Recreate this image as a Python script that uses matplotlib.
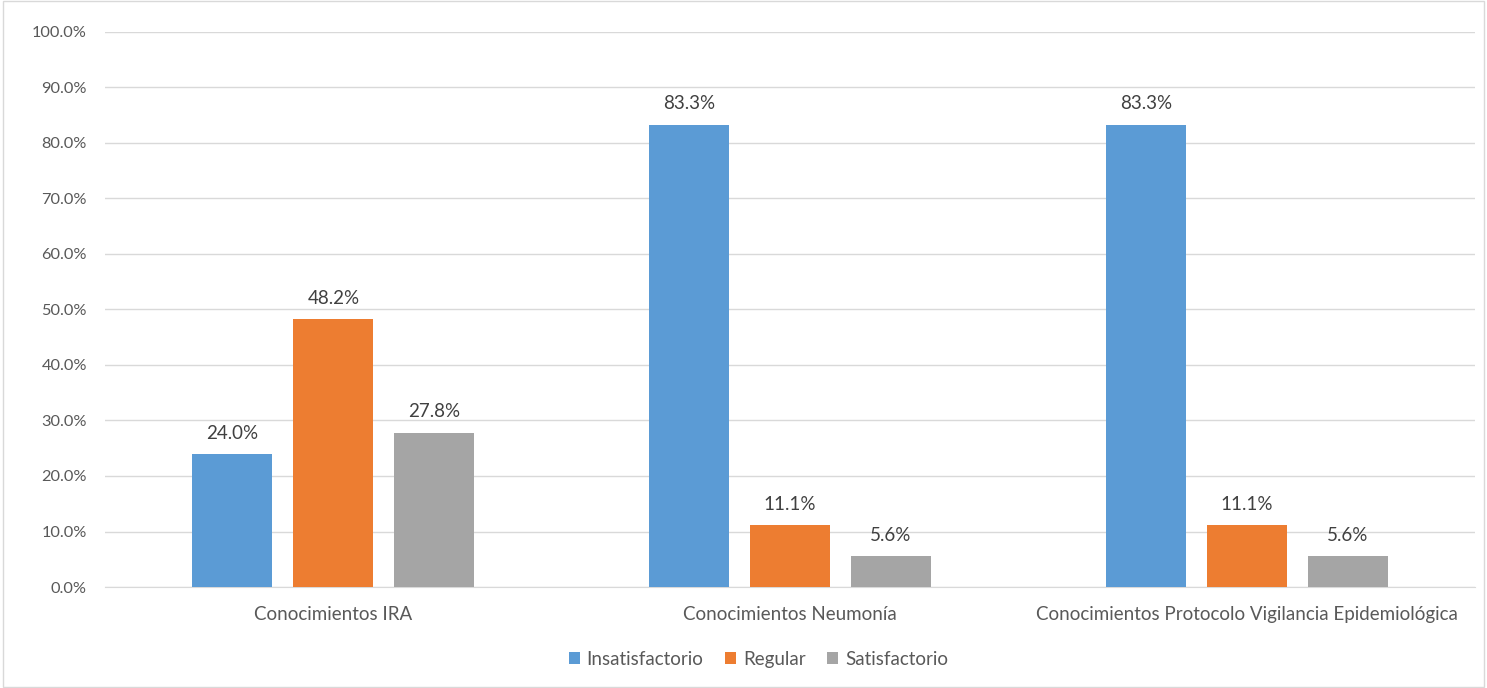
import matplotlib
matplotlib.use('Agg')
import matplotlib.pyplot as plt
import numpy as np

categories = ['Conocimientos IRA', 'Conocimientos Neumonía',
              'Conocimientos Protocolo Vigilancia Epidemiológica']
insatisfactorio = [24.0, 83.3, 83.3]
regular = [48.2, 11.1, 11.1]
satisfactorio = [27.8, 5.6, 5.6]
series_names = ['Insatisfactorio', 'Regular', 'Satisfactorio']
colors = ['#5B9BD5', '#ED7D31', '#A5A5A5']

plt.rcParams['font.family'] = ['Lato', 'DejaVu Sans']

fig = plt.figure(figsize=(14.87, 6.88), dpi=100)
ax = fig.add_axes([0.0706, 0.1468, 0.9214, 0.8067])

x = np.arange(len(categories))
width = 0.175
offset = 0.221
for i, (vals, name, c) in enumerate(zip([insatisfactorio, regular, satisfactorio],
                                        series_names, colors)):
    bars = ax.bar(x + (i - 1) * offset, vals, width, color=c, label=name, zorder=3)
    for b, v in zip(bars, vals):
        ax.text(b.get_x() + b.get_width() / 2, v + 2.2, f'{v:.1f}%',
                ha='center', va='bottom', fontsize=13.5, color='#404040')

ax.set_xlim(-0.5, 2.5)
ax.set_ylim(0, 100)
ax.set_yticks(np.arange(0, 101, 10))
ax.set_yticklabels([f'{t:.1f}%' for t in range(0, 101, 10)])
ax.set_xticks(x)
ax.set_xticklabels(categories)
ax.tick_params(axis='both', length=0, colors='#595959')
ax.tick_params(axis='x', pad=14, labelsize=13.5)
ax.tick_params(axis='y', pad=13, labelsize=11.8)
ax.grid(axis='y', color='#D9D9D9', linewidth=1, zorder=0)
for s in ['top', 'right', 'left']:
    ax.spines[s].set_visible(False)
ax.spines['bottom'].set_color('#D9D9D9')

fig.legend(loc='center', bbox_to_anchor=(0.51, 0.042), ncol=3, frameon=False,
           fontsize=13.5, handlelength=0.6, handleheight=0.6, handletextpad=0.35,
           columnspacing=1.15, labelcolor='#595959')

fig.patches.append(plt.Rectangle((0.002, 0.002), 0.996, 0.996, transform=fig.transFigure,
                                 fill=False, edgecolor='#D9D9D9', linewidth=1))

fig.savefig('out.png', dpi=100)
